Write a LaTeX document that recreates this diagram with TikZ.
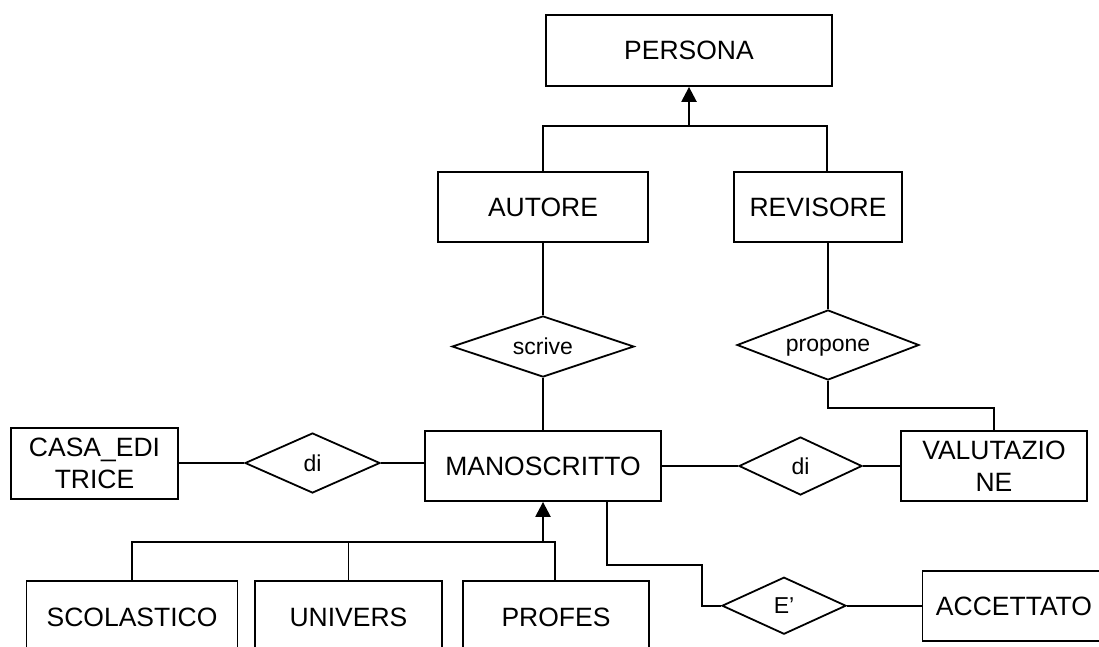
\documentclass[tikz,border=0pt]{standalone}
\usepackage{fontspec}
\setmainfont{Liberation Sans}
\usetikzlibrary{shapes.geometric,arrows.meta}
\begin{document}
\begin{tikzpicture}[x=1pt,y=-1pt,
  ent/.style={draw,line width=1.8pt,rectangle,inner sep=0pt,font=\fontsize{26.5}{31.5}\selectfont,align=center},
  rel/.style={draw,line width=1.8pt,diamond,inner sep=0pt,font=\fontsize{23}{26}\selectfont,aspect=2,text depth=0pt},
  conn/.style={line width=1.8pt},
  isa/.style={line width=2.4pt,-{Triangle[length=15pt,width=15pt]}}
]
\clip (0,0) rectangle (1099,646);
\fill[white] (0,0) rectangle (1099,646);

% entities
\node[ent,minimum width=286,minimum height=71] (persona) at (689,50.5) {PERSONA};
\node[ent,minimum width=210,minimum height=70] (autore) at (543,207) {AUTORE};
\node[ent,minimum width=168,minimum height=70] (revisore) at (818,207) {REVISORE};
\node[ent,minimum width=167,minimum height=71] (casa) at (94.5,463.5) {CASA\_EDI\\TRICE};
\node[ent,minimum width=236,minimum height=70] (mano) at (543,466) {MANOSCRITTO};
\node[ent,minimum width=186,minimum height=70] (valu) at (994,466) {VALUTAZIO\\NE};
\node[ent,minimum width=183,minimum height=70] (acc) at (1014,606) {ACCETTATO};
\node[ent,minimum width=211,minimum height=72] (scol) at (132,617) {SCOLASTICO};
\node[ent,minimum width=187,minimum height=72] (univ) at (348.5,617) {UNIVERS};
\node[ent,minimum width=186,minimum height=72] (prof) at (556,617) {PROFES};

% relationships
\node[rel,minimum width=182,minimum height=61] (scrive) at (543,346.5) {scrive};
\node[rel,minimum width=182,minimum height=70] (propone) at (828,345) {propone};
\node[rel,minimum width=135,minimum height=60] (di1) at (312.5,463) {di};
\node[rel,minimum width=123,minimum height=58] (di2) at (800.5,466) {di};
\node[rel,minimum width=124,minimum height=57] (ee) at (784,605.7) {E’};

% ISA PERSONA
\coordinate (j1) at (689,126);
\draw[conn] (autore.north) |- (j1);
\draw[conn] ([xshift=9]revisore.north) |- (j1);
\draw[isa] (j1) -- (persona.south);

% ISA MANOSCRITTO
\coordinate (j2) at (543,541.7);
\draw[conn] (scol.north) |- (j2);
\draw[conn] (univ.north) |- (j2);
\draw[conn] ([xshift=-1]prof.north) |- (j2);
\draw[isa] (j2) -- (mano.south);

% relationships connections
\draw[conn] (autore.south) -- (scrive.north);
\draw[conn] (scrive.south) -- (mano.north);
\draw[conn] (revisore.south -| propone.north) -- (propone.north);
\draw[conn] (propone.south) -- ++(0,26.7) -| (valu.north);
\draw[conn] (casa.east |- di1.west) -- (di1.west);
\draw[conn] (di1.east) -- (di1.east -| mano.west);
\draw[conn] (mano.east |- di2.west) -- (di2.west);
\draw[conn] (di2.east) -- (di2.east -| valu.west);
\coordinate (k1) at (702,565);
\draw[conn] ([xshift=64]mano.south) |- (k1) |- (ee.west);
\draw[conn] (ee.east) -- (acc.west |- ee.east);
\end{tikzpicture}
\end{document}
